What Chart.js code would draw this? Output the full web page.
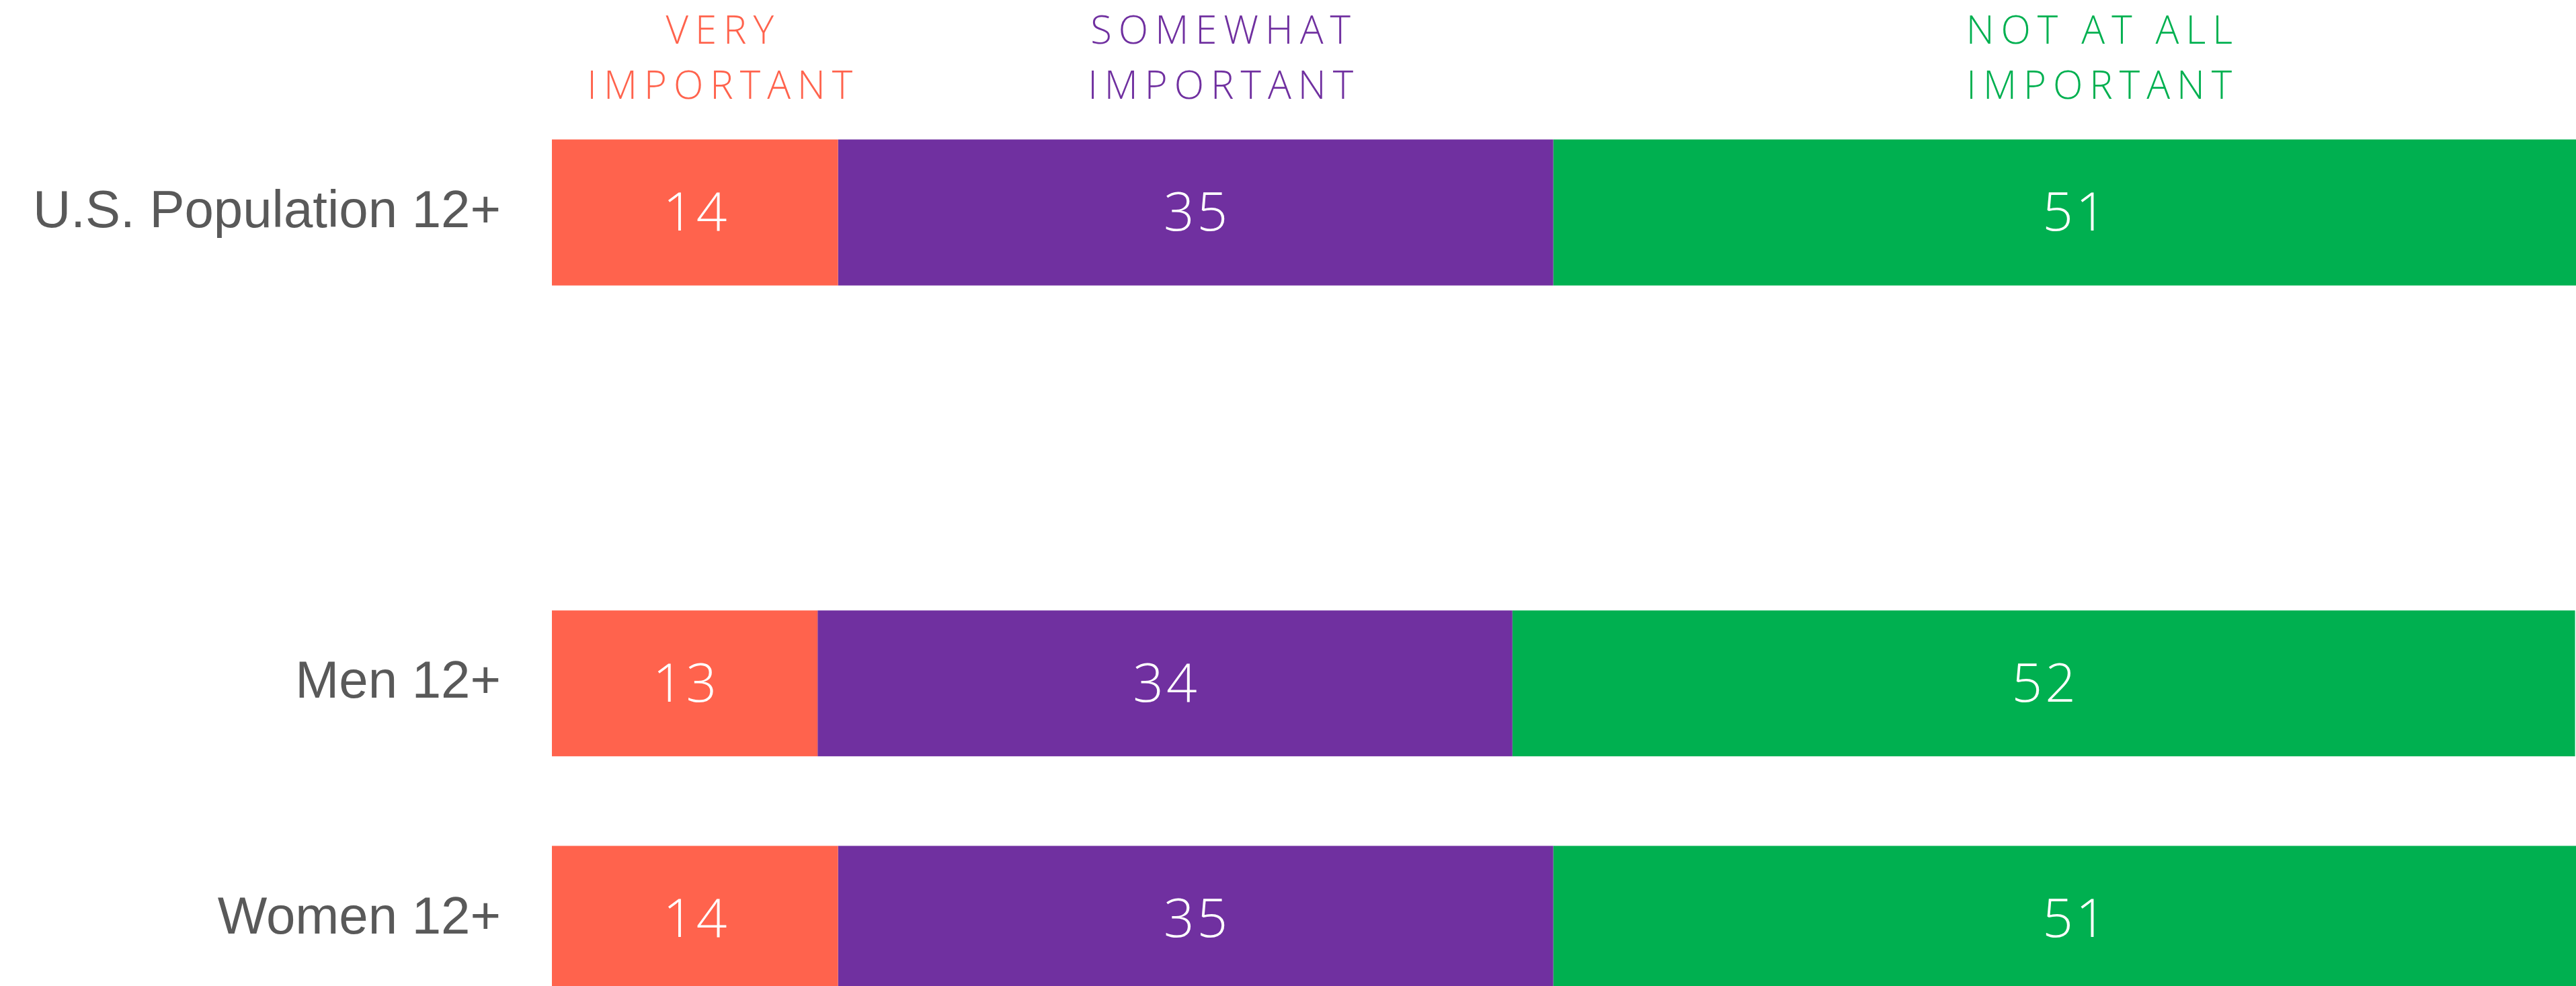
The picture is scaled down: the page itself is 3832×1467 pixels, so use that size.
<!DOCTYPE html>
<html>
<head>
<meta charset="utf-8">
<script src="https://cdn.jsdelivr.net/npm/chart.js@4/dist/chart.umd.min.js"></script>
<style>
  html, body { margin: 0; padding: 0; background: #fff; overflow: hidden; }
  /* the chart runs past the right and bottom edges of the window, like the source picture */
  #wrap { position: absolute; left: 0; top: 0; width: 3861px; height: 1665px; }
</style>
</head>
<body>
<div id="wrap"><canvas id="myChart"></canvas></div>
<script>
//chart data
const categories = ["U.S. Population 12+", "", "Men 12+", "Women 12+"];
const seriesNames = [["VERY", "IMPORTANT"], ["SOMEWHAT", "IMPORTANT"], ["NOT AT ALL", "IMPORTANT"]];
const veryImportant = [14, null, 13, 14];
const somewhatImportant = [35, null, 34, 35];
const notAtAllImportant = [51, null, 52, 51];
const colors = ["#FF634D", "#7030A0", "#00B050"];

const thinFont = "'Open Sans', 'Lato', sans-serif";

//draws the numbers inside the bars and the column headers on top
const barLabels = {
  id: "barLabels",
  afterDatasetsDraw(chart) {
    const ctx = chart.ctx;
    ctx.save();
    ctx.textAlign = "center";
    ctx.textBaseline = "middle";
    chart.data.datasets.forEach((ds, i) => {
      const meta = chart.getDatasetMeta(i);
      meta.data.forEach((bar, j) => {
        if (ds.data[j] == null) return;
        ctx.font = "300 80px " + thinFont;
        ctx.fillStyle = "#ffffff";
        ctx.letterSpacing = "4px";
        ctx.fillText(String(ds.data[j]), (bar.x + bar.base) / 2 + 2, bar.y + 4);
      });
      //header over the first row
      const first = meta.data[0];
      const cx = (first.x + first.base) / 2 + 42;
      ctx.font = "300 58px " + thinFont;
      ctx.fillStyle = ds.backgroundColor;
      ctx.letterSpacing = "10px";
      ctx.fillText(seriesNames[i][0], cx, 48);
      ctx.fillText(seriesNames[i][1], cx, 130);
    });
    ctx.restore();
  },
};

const data = {
  labels: categories,
  datasets: [
    { label: seriesNames[0].join(" "), data: veryImportant, backgroundColor: colors[0] },
    { label: seriesNames[1].join(" "), data: somewhatImportant, backgroundColor: colors[1] },
    { label: seriesNames[2].join(" "), data: notAtAllImportant, backgroundColor: colors[2] },
  ],
};

const config = {
  type: "bar",
  data: data,
  plugins: [barLabels],
  options: {
    indexAxis: "y",
    responsive: true,
    maintainAspectRatio: false,
    animation: false,
    devicePixelRatio: 1,
    layout: { padding: { left: 0, right: 0, top: 141, bottom: 0 } },
    categoryPercentage: 1,
    barPercentage: 0.62,
    plugins: { legend: { display: false }, tooltip: { enabled: false } },
    scales: {
      x: {
        stacked: true,
        min: 0,
        max: 100,
        display: false,
      },
      y: {
        stacked: true,
        grid: { display: false, drawTicks: false },
        border: { display: false },
        afterFit: (scale) => { scale.width = 821; },
        ticks: {
          padding: 76,
          color: "#595959",
          font: { family: "'Liberation Sans', Arial, sans-serif", size: 78 },
        },
      },
    },
  },
};

const myChart = new Chart(document.getElementById("myChart"), config);
</script>
</body>
</html>
